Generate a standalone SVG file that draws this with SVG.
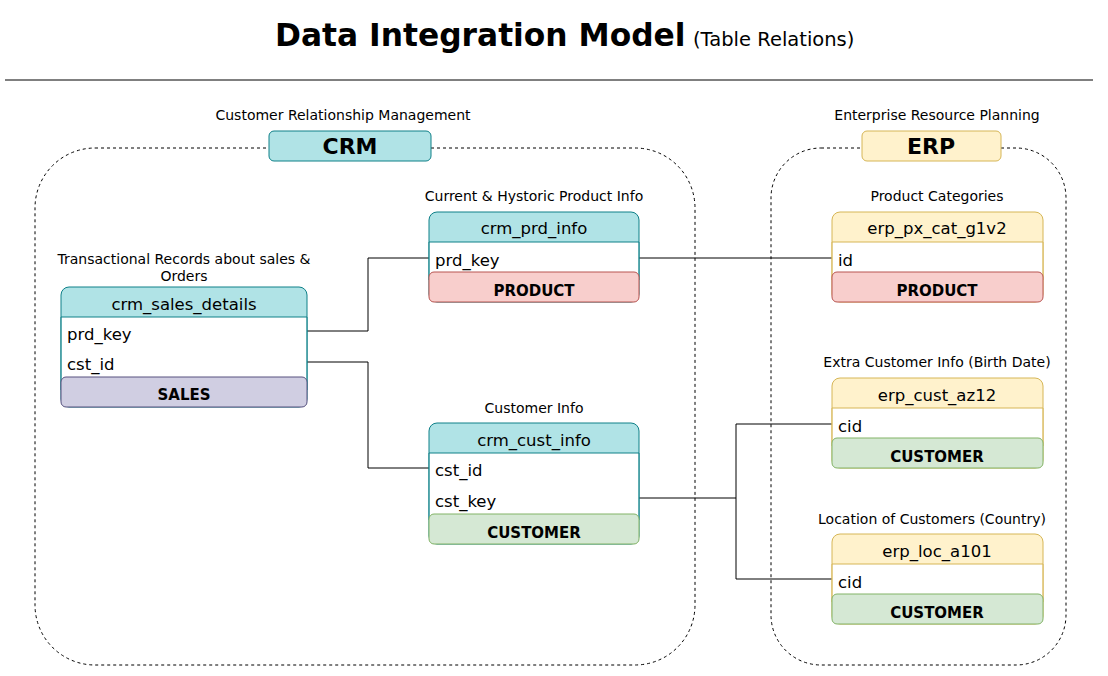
<svg xmlns="http://www.w3.org/2000/svg" width="1108" height="676" viewBox="0 0 1108 676">
<style>
text{font-family:"DejaVu Sans","Liberation Sans",sans-serif;fill:#000}
.lbl{font-size:14px;text-anchor:middle}
.hd{font-size:16.5px;text-anchor:middle}
.row{font-size:16.5px}
.ft{font-size:15px;font-weight:bold;text-anchor:middle}
.cont{fill:none;stroke:#000;stroke-width:1;stroke-dasharray:3 3}
.crmT{fill:#b0e3e6;stroke:#0e8088}
.erpT{fill:#fff2cc;stroke:#d6b656}
.body{fill:#fff}
.prod{fill:#f8cecc;stroke:#b85450}
.cust{fill:#d5e8d4;stroke:#82b366}
.sales{fill:#d0cee2;stroke:#56517e}
.conn{fill:none;stroke:#000;stroke-width:1}
</style>
<rect width="1108" height="676" fill="#fff"/>
<g id="title">
<text x="275" y="46" style="font-size:31.3px;font-weight:bold">Data Integration Model</text>
<text x="693" y="46" style="font-size:19.5px">(Table Relations)</text>
<line x1="5" y1="80" x2="1093" y2="80" stroke="#000" stroke-width="1"/>
</g>
<g id="crm-group">
<rect class="cont" x="35" y="148" width="660" height="517" rx="60"/>
<text class="lbl" x="343" y="120">Customer Relationship Management</text>
<rect x="269" y="131" width="162" height="30" rx="5" class="crmT"/>
<text x="350" y="154" style="font-size:22px;font-weight:bold;text-anchor:middle">CRM</text>
</g>
<g id="erp-group">
<rect class="cont" x="771" y="148" width="295" height="517" rx="50"/>
<text class="lbl" x="937" y="120">Enterprise Resource Planning</text>
<rect x="862" y="131" width="139" height="30" rx="5" class="erpT"/>
<text x="931" y="154" style="font-size:22px;font-weight:bold;text-anchor:middle">ERP</text>
</g>
<g id="connectors">
<polyline class="conn" points="307,331 368,331 368,258 429,258"/>
<polyline class="conn" points="307,362 368,362 368,468 429,468"/>
<polyline class="conn" points="639,258 832,258"/>
<polyline class="conn" points="639,498 736,498 736,424 832,424"/>
<polyline class="conn" points="736,498 736,579 832,579"/>
</g>
<g id="crm_sales_details">
<text class="lbl" x="184" y="264">Transactional Records about sales &amp;</text>
<text class="lbl" x="184" y="281">Orders</text>
<rect x="61" y="287" width="246" height="120" rx="8" class="crmT"/>
<rect x="61.5" y="317" width="245" height="70" class="body"/>
<line x1="61" y1="317" x2="307" y2="317" stroke="#0e8088"/>
<line x1="61" y1="317" x2="61" y2="390" stroke="#0e8088"/>
<line x1="307" y1="317" x2="307" y2="390" stroke="#0e8088"/>
<text class="hd" x="184" y="310">crm_sales_details</text>
<text class="row" x="67" y="340">prd_key</text>
<text class="row" x="67" y="370">cst_id</text>
<rect x="61" y="377" width="246" height="30" rx="5" class="sales"/>
<text class="ft" x="184" y="400">SALES</text>
</g>
<g id="crm_prd_info">
<text class="lbl" x="534" y="201">Current &amp; Hystoric Product Info</text>
<rect x="429" y="212" width="210" height="90" rx="8" class="crmT"/>
<rect x="429.5" y="242" width="209" height="35" class="body"/>
<line x1="429" y1="242" x2="639" y2="242" stroke="#0e8088"/>
<line x1="429" y1="242" x2="429" y2="280" stroke="#0e8088"/>
<line x1="639" y1="242" x2="639" y2="280" stroke="#0e8088"/>
<text class="hd" x="534" y="234">crm_prd_info</text>
<text class="row" x="435" y="266">prd_key</text>
<rect x="429" y="272" width="210" height="30" rx="5" class="prod"/>
<text class="ft" x="534" y="296">PRODUCT</text>
</g>
<g id="crm_cust_info">
<text class="lbl" x="534" y="413">Customer Info</text>
<rect x="429" y="423" width="210" height="121" rx="8" class="crmT"/>
<rect x="429.5" y="453" width="209" height="66" class="body"/>
<line x1="429" y1="453" x2="639" y2="453" stroke="#0e8088"/>
<line x1="429" y1="453" x2="429" y2="520" stroke="#0e8088"/>
<line x1="639" y1="453" x2="639" y2="520" stroke="#0e8088"/>
<text class="hd" x="534" y="446">crm_cust_info</text>
<text class="row" x="435" y="476">cst_id</text>
<text class="row" x="435" y="507">cst_key</text>
<rect x="429" y="514" width="210" height="30" rx="5" class="cust"/>
<text class="ft" x="534" y="538">CUSTOMER</text>
</g>
<g id="erp_px_cat_g1v2">
<text class="lbl" x="937" y="201">Product Categories</text>
<rect x="832" y="212" width="211" height="90" rx="8" class="erpT"/>
<rect x="832.5" y="242" width="210" height="35" class="body"/>
<line x1="832" y1="242" x2="1043" y2="242" stroke="#d6b656"/>
<line x1="832" y1="242" x2="832" y2="280" stroke="#d6b656"/>
<line x1="1043" y1="242" x2="1043" y2="280" stroke="#d6b656"/>
<text class="hd" x="937" y="234">erp_px_cat_g1v2</text>
<text class="row" x="838" y="266">id</text>
<rect x="832" y="272" width="211" height="30" rx="5" class="prod"/>
<text class="ft" x="937" y="296">PRODUCT</text>
</g>
<g id="erp_cust_az12">
<text class="lbl" x="937" y="367">Extra Customer Info (Birth Date)</text>
<rect x="832" y="378" width="211" height="90" rx="8" class="erpT"/>
<rect x="832.5" y="408" width="210" height="35" class="body"/>
<line x1="832" y1="408" x2="1043" y2="408" stroke="#d6b656"/>
<line x1="832" y1="408" x2="832" y2="446" stroke="#d6b656"/>
<line x1="1043" y1="408" x2="1043" y2="446" stroke="#d6b656"/>
<text class="hd" x="937" y="401">erp_cust_az12</text>
<text class="row" x="838" y="432">cid</text>
<rect x="832" y="438" width="211" height="30" rx="5" class="cust"/>
<text class="ft" x="937" y="462">CUSTOMER</text>
</g>
<g id="erp_loc_a101">
<text class="lbl" x="932" y="524">Location of Customers (Country)</text>
<rect x="832" y="534" width="211" height="90" rx="8" class="erpT"/>
<rect x="832.5" y="564" width="210" height="35" class="body"/>
<line x1="832" y1="564" x2="1043" y2="564" stroke="#d6b656"/>
<line x1="832" y1="564" x2="832" y2="602" stroke="#d6b656"/>
<line x1="1043" y1="564" x2="1043" y2="602" stroke="#d6b656"/>
<text class="hd" x="937" y="557">erp_loc_a101</text>
<text class="row" x="838" y="588">cid</text>
<rect x="832" y="594" width="211" height="30" rx="5" class="cust"/>
<text class="ft" x="937" y="618">CUSTOMER</text>
</g>
</svg>
